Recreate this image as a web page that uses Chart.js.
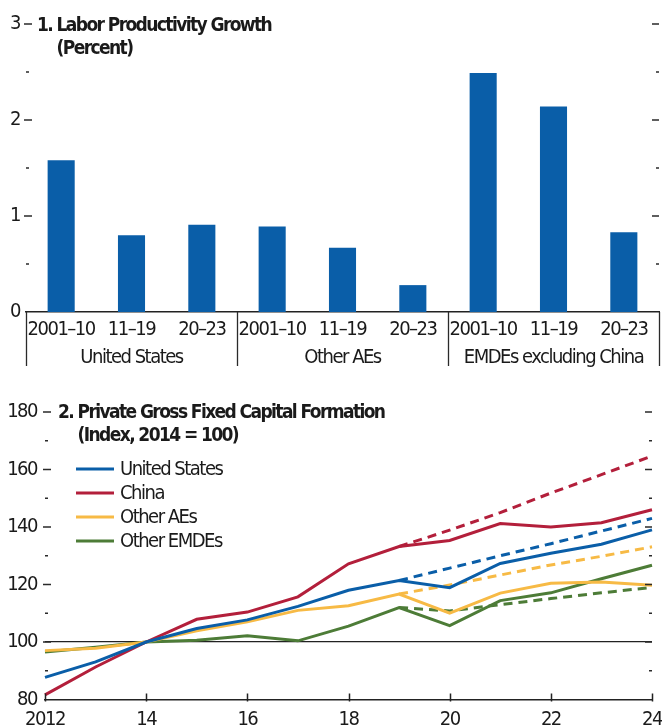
<!DOCTYPE html>
<html>
<head>
<meta charset="utf-8">
<script src="https://cdn.jsdelivr.net/npm/chart.js@4.4.1/dist/chart.umd.min.js"></script>
<style>
  html, body { margin: 0; padding: 0; background: #fff; overflow: hidden; }
  #top { position: absolute; left: 0; top: 0; }
  #bottom { position: absolute; left: 0; top: 385px; }
</style>
</head>
<body>
<canvas id="top" width="662" height="372"></canvas>
<canvas id="bottom" width="662" height="360"></canvas>
<script>
// Panel 1: labor productivity growth (percent)
var periods = ['2001–10', '11–19', '20–23'];
var groups = ['United States', 'Other AEs', 'EMDEs excluding China'];
var usGrowth = [1.58, 0.80, 0.91];
var otherAEsGrowth = [0.89, 0.67, 0.28];
var emdeGrowth = [2.49, 2.14, 0.83];

// Panel 2: private gross fixed capital formation (index, 2014 = 100)
var years = [2012, 2013, 2014, 2015, 2016, 2017, 2018, 2019, 2020, 2021, 2022, 2023, 2024];
var yearTicks = ['2012', '', '14', '', '16', '', '18', '', '20', '', '22', '', '24'];
var us = [87.7, 93.1, 100, 104.7, 107.7, 112.4, 118.0, 121.4, 118.9, 127.3, 130.9, 134.0, 139.0];
var china = [81.6, 91.3, 100, 107.9, 110.4, 115.7, 127.2, 133.2, 135.3, 141.2, 140.0, 141.5, 146.0];
var otherAEs = [97.0, 97.8, 100, 103.9, 107.0, 111.0, 112.6, 116.7, 110.0, 117.0, 120.4, 120.9, 119.7];
var otherEMDEs = [96.5, 98.2, 100, 100.6, 102.2, 100.4, 105.5, 112.0, 105.7, 114.4, 117.1, 122.0, 126.7];
// pre-pandemic trend paths (dashed)
var usTrend = [null, null, null, null, null, null, null, 121.4, 125.7, 130.0, 134.2, 138.6, 143.0];
var chinaTrend = [null, null, null, null, null, null, null, 133.2, 138.9, 145.0, 151.8, 158.2, 164.7];
var otherAEsTrend = [null, null, null, null, null, null, null, 116.7, 119.8, 123.3, 126.8, 129.8, 133.1];
var otherEMDEsTrend = [null, null, null, null, null, null, null, 112.0, 110.8, 113.0, 115.1, 117.1, 119.0];

var FONT = "'Liberation Sans Narrow', 'DejaVu Sans Condensed', sans-serif";
var INK = '#1a1a1a';
var BLUE = '#0a5ea8';
var RED = '#b31f3b';
var YELLOW = '#f7ba45';
var GREEN = '#4d7c37';

Chart.defaults.font.family = FONT;
Chart.defaults.font.size = 20;
Chart.defaults.color = INK;

// squeeze the text a little, the original uses a condensed face
Chart.register({
    id: 'tightText',
    beforeLayout(chart) { chart.ctx.letterSpacing = '-1.5px'; },
    beforeDraw(chart) { chart.ctx.letterSpacing = '-1.5px'; }
});

// build the bar labels: second line only under the middle period
var barLabels = [];
var barValues = [];
[usGrowth, otherAEsGrowth, emdeGrowth].forEach(function(vals, g) {
    vals.forEach(function(v, i) {
        barLabels.push([periods[i], i == 1 ? groups[g] : '']);
        barValues.push(v);
    });
});

// small inward tick marks on both sides, majors at the labelled ticks
var inwardTicks = {
    id: 'inwardTicks',
    afterDraw(chart) {
        var ctx = chart.ctx, a = chart.chartArea, y = chart.scales.y;
        var vals = y.ticks.map(function(t) { return t.value; });
        ctx.save();
        ctx.strokeStyle = '#2a2a2a';
        for (var i = 1; i < vals.length; i++) {
            var major = y.getPixelForValue(vals[i]);
            var minor = y.getPixelForValue((vals[i] + vals[i - 1]) / 2);
            ctx.lineWidth = 1.6;
            ctx.beginPath();
            ctx.moveTo(a.left - 2, major); ctx.lineTo(a.left + 6, major);
            ctx.moveTo(a.right, major); ctx.lineTo(a.right - 7, major);
            ctx.stroke();
            ctx.lineWidth = 1.4;
            ctx.beginPath();
            ctx.moveTo(a.left, minor); ctx.lineTo(a.left + 3, minor);
            ctx.moveTo(a.right, minor); ctx.lineTo(a.right - 3, minor);
            ctx.stroke();
        }
        ctx.restore();
    }
};

function panelTitle(num, line1, line2, x, y) {
    return {
        id: 'panelTitle',
        afterDraw(chart) {
            var ctx = chart.ctx;
            ctx.save();
            ctx.fillStyle = INK;
            ctx.font = 'bold 19px ' + FONT;
            ctx.letterSpacing = '-1.6px';
            ctx.textBaseline = 'alphabetic';
            var lead = num + ' ';
            ctx.fillText(lead + line1, x, y);
            ctx.fillText(line2, x + ctx.measureText(lead).width, y + 23);
            ctx.restore();
        }
    };
}

// group dividers under the bar axis
var groupDividers = {
    id: 'groupDividers',
    afterDraw(chart) {
        var ctx = chart.ctx, a = chart.chartArea, x = chart.scales.x;
        var n = barLabels.length;
        var edges = [a.left, a.right];
        for (var i = 3; i < n; i += 3)
            edges.push((x.getPixelForValue(i - 1) + x.getPixelForValue(i)) / 2);
        ctx.save();
        ctx.strokeStyle = '#2a2a2a';
        ctx.lineWidth = 1.3;
        ctx.beginPath();
        edges.forEach(function(px) {
            ctx.moveTo(Math.round(px) + 0.5, a.bottom);
            ctx.lineTo(Math.round(px) + 0.5, a.bottom + 54);
        });
        ctx.stroke();
        ctx.restore();
    }
};

new Chart(document.getElementById('top'), {
    type: 'bar',
    data: {
        labels: barLabels,
        datasets: [{
            data: barValues,
            backgroundColor: BLUE,
            barPercentage: 0.385,
            categoryPercentage: 1
        }]
    },
    options: {
        responsive: false,
        animation: false,
        layout: { padding: { top: 24, right: 3, left: 0, bottom: 0 } },
        plugins: { legend: { display: false }, tooltip: { enabled: false } },
        scales: {
            x: {
                grid: { display: false, drawTicks: false },
                border: { display: true, color: '#222', width: 1.5 },
                ticks: { autoSkip: false, maxRotation: 0, padding: 4, font: { size: 20, lineHeight: 1.4 } },
                afterFit: function(s) { s.height = 60; s.paddingLeft = 0; s.paddingRight = 0; }
            },
            y: {
                min: 0, max: 3,
                grid: { display: false, drawTicks: false },
                border: { display: false },
                ticks: { stepSize: 1, padding: 6 },
                afterFit: function(s) { s.width = 26; }
            }
        }
    },
    plugins: [inwardTicks, groupDividers, panelTitle('1.', 'Labor Productivity Growth', '(Percent)', 37, 31)]
});

// legend for the four solid lines
var lineLegend = {
    id: 'lineLegend',
    afterDraw(chart) {
        var ctx = chart.ctx;
        ctx.save();
        ctx.font = '20px ' + FONT;
        ctx.textBaseline = 'middle';
        chart.data.datasets.slice(0, 4).forEach(function(ds, i) {
            var y = 84 + i * 24;
            ctx.strokeStyle = ds.borderColor;
            ctx.lineWidth = 3;
            ctx.beginPath();
            ctx.moveTo(76, y); ctx.lineTo(114, y);
            ctx.stroke();
            ctx.fillStyle = INK;
            ctx.fillText(ds.label, 120, y + 1);
        });
        ctx.restore();
    }
};

var yearMarks = {
    id: 'yearMarks',
    afterDraw(chart) {
        var ctx = chart.ctx, a = chart.chartArea, x = chart.scales.x;
        ctx.save();
        ctx.strokeStyle = '#222';
        ctx.lineWidth = 1.5;
        ctx.beginPath();
        years.forEach(function(yr, i) {
            if (!yearTicks[i]) return;
            var px = Math.round(x.getPixelForValue(i)) + 0.5;
            ctx.moveTo(px, a.bottom + 2);
            ctx.lineTo(px, a.bottom - 6);
        });
        ctx.stroke();
        ctx.restore();
    }
};

function solid(label, data, color) {
    return { label: label, data: data, borderColor: color, borderWidth: 3 };
}
function dashed(label, data, color) {
    return { label: label, data: data, borderColor: color, borderWidth: 3, borderDash: [9, 6] };
}

new Chart(document.getElementById('bottom'), {
    type: 'line',
    data: {
        labels: years,
        datasets: [
            solid('United States', us, BLUE),
            solid('China', china, RED),
            solid('Other AEs', otherAEs, YELLOW),
            solid('Other EMDEs', otherEMDEs, GREEN),
            dashed('United States trend', usTrend, BLUE),
            dashed('China trend', chinaTrend, RED),
            dashed('Other AEs trend', otherAEsTrend, YELLOW),
            dashed('Other EMDEs trend', otherEMDEsTrend, GREEN)
        ]
    },
    options: {
        responsive: false,
        animation: false,
        layout: { padding: { top: 27, right: 10, left: 0, bottom: 0 } },
        elements: { point: { radius: 0 }, line: { tension: 0, fill: false, borderCapStyle: 'butt' } },
        plugins: { legend: { display: false }, tooltip: { enabled: false } },
        scales: {
            x: {
                offset: false,
                grid: { display: false, drawTicks: false },
                border: { display: true, color: '#222', width: 1.5 },
                ticks: {
                    autoSkip: false, maxRotation: 0, padding: 8,
                    callback: function(v, i) { return yearTicks[i]; }
                },
                afterFit: function(s) { s.height = 45.5; s.paddingLeft = 0; s.paddingRight = 0; }
            },
            y: {
                min: 80, max: 180,
                grid: {
                    drawTicks: false,
                    lineWidth: 1.2,
                    color: function(c) { return c.tick && c.tick.value === 100 ? '#222' : 'transparent'; }
                },
                border: { display: false },
                ticks: { stepSize: 20, padding: 8 },
                afterFit: function(s) { s.width = 45; }
            }
        }
    },
    plugins: [inwardTicks, yearMarks, lineLegend,
              panelTitle('2.', 'Private Gross Fixed Capital Formation', '(Index, 2014 = 100)', 58, 33)]
});
</script>
</body>
</html>
